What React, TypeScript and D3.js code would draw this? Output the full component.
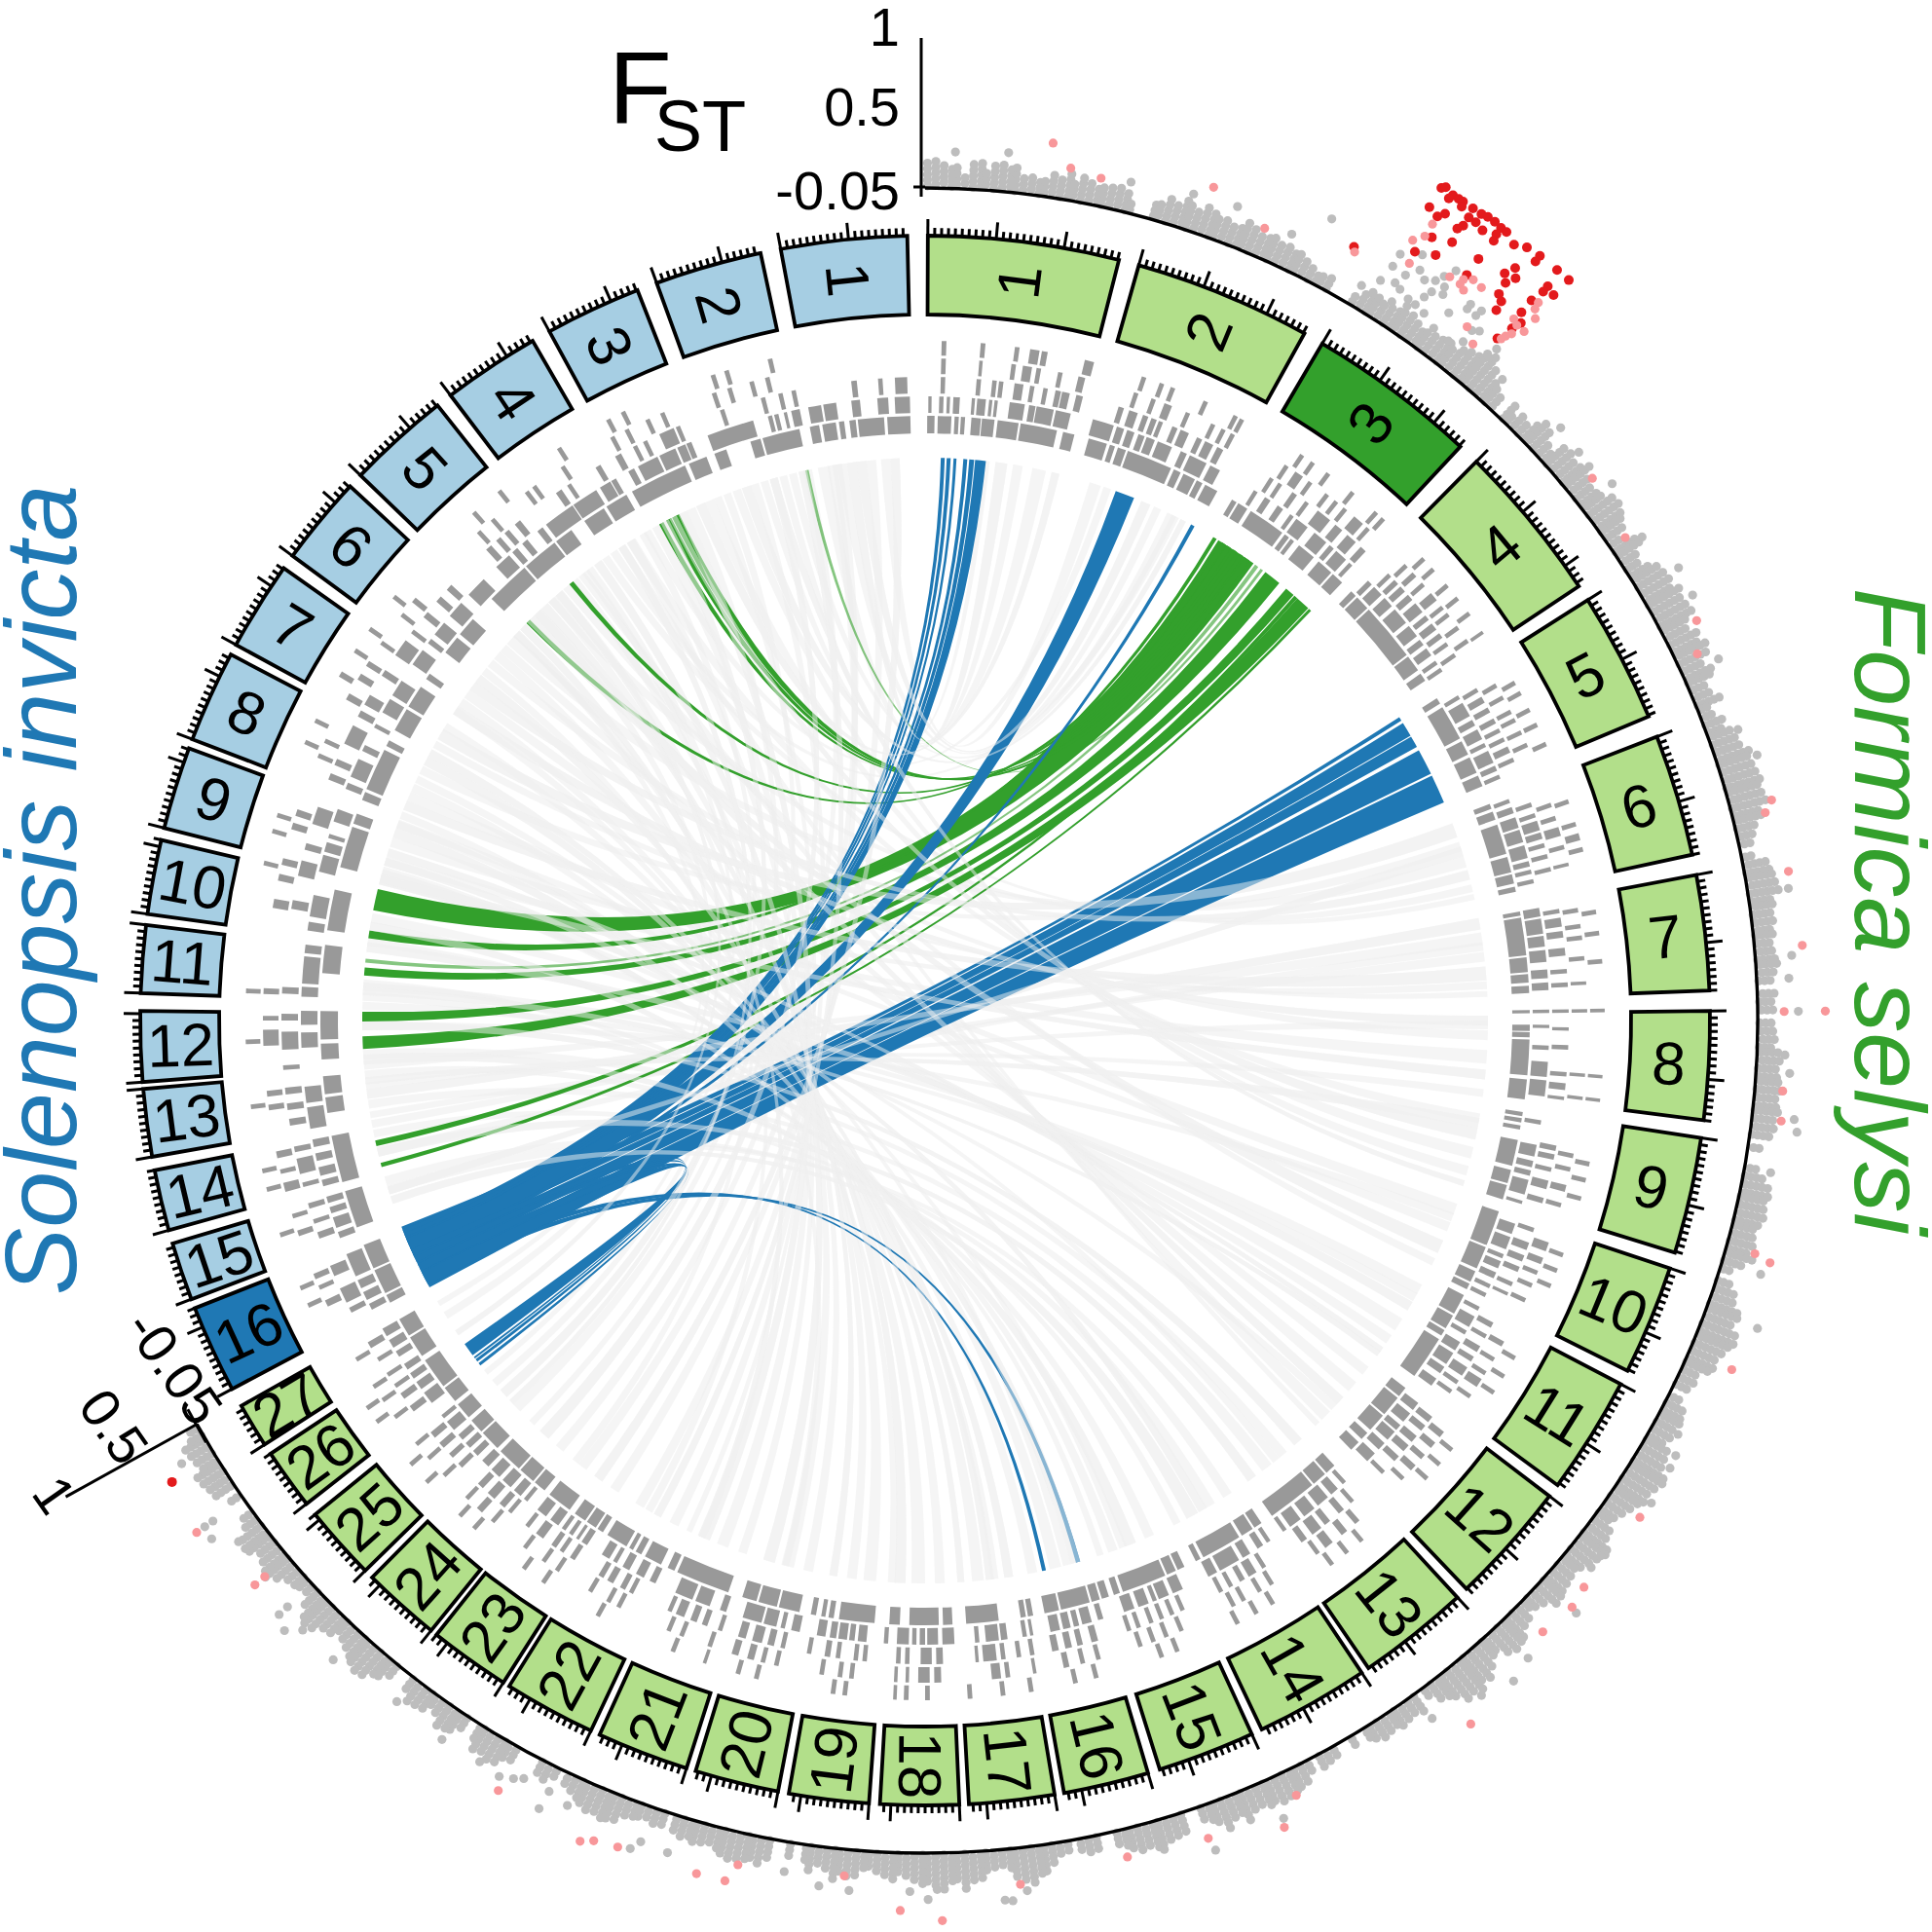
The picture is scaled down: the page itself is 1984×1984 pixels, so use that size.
import * as d3 from 'd3'

const CX = 950
const CY = 1048
const SIZE = 1984

const greenNames = d3.range(1, 28).map(String)
const greenStart = [0.2, 15.8, 30.4, 44.6, 57.6, 68.8, 79.3, 89.3, 98.6, 108.4, 117.6, 127.3, 137.3, 146.2, 155.4, 163.5, 170.5, 177.5, 184.1, 190.8, 197.7, 205.2, 212.5, 219, 225.5, 232, 237.3]
const greenEnd = [14.3, 28.9, 43, 56.4, 67.2, 77.8, 87.8, 97.3, 107.2, 116.5, 126.3, 136.4, 145.6, 154.6, 162.6, 169.8, 176.8, 183.3, 190, 197, 204.5, 212, 218.5, 224.8, 231, 236.5, 240.6]
const blueNames = d3.range(1, 17).map(String)
const blueStart = [349.4, 340, 331.4, 322.8, 314, 306.3, 298.6, 291, 284.2, 277.8, 272, 265.5, 260, 254.5, 249.2, 242]
const blueEnd = [358.7, 347.9, 338.5, 330, 321.6, 312.9, 305.2, 297.8, 290.3, 283.3, 277, 270.7, 265, 259, 253.5, 248.5]

const fstAxisTicks = [-0.05, 0.5, 1]

// top of the dense grey band, one value per half degree
const fstPeaks0 = [.14,.17,.12,.1,.13,.05,.14,.17,.08,.15,.16,.14,.12,.08,.1,.07,.09,.13,.1,.16,.08,.14,.11,.09,.11,.13,.12,.1,.04,.02,
  .03,.06,.1,.14,.12,.15,.13,.11,.16,.14,.12,.14,.1,.13,.15,.12,.1,.11,.13,.1,.12,.08,.1,.08,.06,.05,.04,.06,.03,.02]
const fstPeaks30 = [.03,.05,.08,.1,.12,.08,.1,.12,.14,.12,.1,.09,.1,.12,.14,.12,.1,.14,.16,.2,.24,.26,.2,.13,.1,.06,.02,.08,.04,.1,
  .06,.12,.16,.14,.08,.05,.14,.16,.12,.15,.18,.14,.1,.12,.13,.17,.2,.18,.15,.1,.05,.12,.16,.08,.04,.1,.18,.16,.2,.18]
const fstPeaks60 = [.22,.18,.2,.22,.17,.13,.18,.14,.2,.16,.1,.16,.12,.08,.1,.12,.05,.04,.1,.08,.12,.14,.17,.2,.17,.2,.22,.2,.2,.22,
  .2,.16,.17,.1,.08,.06,.03,.05,.12,.15,.14,.17,.16,.13,.12,.08,.1,.1,.11,.07,.1,.08,.1,.08,.05,.03,.08,.05,.06,.03]
const fstPeaks90 = [.06,.06,.08,.04,.1,.12,.09,.13,.14,.13,.1,.12,.14,.1,.12,.08,.03,.04,.02,.03,.05,.1,.14,.16,.14,.15,.17,.12,.1,.14,
  .12,.13,.17,.08,.05,.03,.06,.12,.14,.16,.18,.16,.2,.22,.2,.16,.14,.18,.14,.08,.1,.05,.02,.04,.08,.12,.14,.1,.12,.08]
const fstPeaks120 = [.12,.14,.16,.2,.22,.2,.18,.2,.16,.14,.1,.08,.06,.1,.14,.16,.18,.15,.14,.12,.1,.08,.1,.12,.14,.15,.1,.06,.04,.08,
  .1,.14,.16,.18,.14,.1,.1,.16,.2,.19,.22,.2,.22,.17,.13,.1,.04,.02,.1,.06,.08,.1,.06,.08,.1,.06,.04,.02,.04,.03]
const fstPeaks150 = [.03,.04,.06,.05,.03,.04,.08,.1,.12,.15,.16,.14,.13,.1,.14,.16,.12,.14,.17,.12,.1,.06,.03,.02,.08,.1,.12,.14,.16,.12,
  .14,.1,.07,.05,.02,.03,.06,.08,.04,.02,.04,.06,.1,.15,.18,.2,.2,.18,.1,.06,.1,.08,.14,.18,.2,.17,.16,.2,.18,.16]
const fstPeaks180 = [.18,.16,.12,.1,.14,.13,.1,.06,.08,.14,.16,.14,.16,.12,.1,.12,.06,.03,.04,.02,.03,.1,.14,.13,.12,.14,.15,.12,.1,.08,
  .1,.12,.1,.08,.06,.03,.04,.06,.04,.06,.08,.1,.12,.14,.16,.15,.14,.12,.1,.08,.04,.02,.05,.08,.06,.03,.02,.03,.08,.1]
const fstPeaks210 = [.14,.16,.14,.12,.06,.03,.05,.1,.14,.13,.08,.04,.1,.13,.12,.07,.03,.02,.04,.1,.14,.17,.2,.17,.14,.1,.08,.06,.1,.14,
  .18,.2,.16,.1,.05,.06,.04,.08,.14,.18,.15,.12,.1,.14,.16,.13,.09,.05,.03,.02,.04,.02,.1,.14,.12,.15,.1,.08,.1,.12,.06,.04]
const fstPeaks = [...fstPeaks0, ...fstPeaks30, ...fstPeaks60, ...fstPeaks90, ...fstPeaks120, ...fstPeaks150, ...fstPeaks180, ...fstPeaks210]

const fstLoose = [[26.9,.41],[31.8,.43],[33,.51],[31.8,.33],[33.4,.41],[32.8,.325],[32.5,.24],[31.6,.2],[34,.37],[34.6,.41],[34.9,.47],[35.3,.55],[35.3,.41],[35.5,.36],[34.8,.33],[34.6,.27],[33,.22],[33.8,.195],[34.4,.19],[34,.15],[36.5,.28],[37.3,.42],[37.3,.38],[38.1,.43],[38,.38],[35.2,.175],[36.3,.13],[38.4,.28],[38.8,.31],[37.6,.12],[38.4,.18],[38.8,.135],[40.4,.21],[40.4,.29],[42,.155],[30.7,.1],[31.6,.1],[32.6,.07],[33,.115],
  [2,.2],[5.5,.22],[13.8,.16],[18,.2],[21,.22],[25,.19],[47,.2],[49,.18],[52,.22],[56,.17],[59,.27],[61,.26],[65.5,.22],
  [70.3,.16],[72.3,.23],[81.3,.23],[85.7,.2],[87.2,.17],[89.4,.23],[92.3,.14],[93.5,.18],[97.3,.27],[96.5,.24],[100.2,.13],[106.9,.23],[110.3,.33],[120.1,.19],[121,.2],[118.8,.13],[123.6,.22],[128.4,.15],[129.4,.15],[132.3,.28],[136.6,.26],[138.3,.31],[140.5,.24],[144,.155],
  [155.8,.24],[160.7,.27],[163.9,.155],[173.3,.25],[174.8,.3],[174.3,.31],[179.8,.27],[179.2,.2],[181,.215],[185,.23],[187,.22],[189.4,.155],[197.2,.215],[199.1,.2],[199.6,.27],[206.1,.26],[204.5,.155],[206,.12],[207.9,.12],[208.5,.155],[209.4,.19],[211,.17],[213.9,.18],[217.8,.15],[225.6,.215],[222.8,.215],[239.2,.175],[234,.29],[234.9,.28],[234.9,.21],[232.8,.15],[227.4,.26],[226.4,.31],[227.4,.18]]

const fstPink = [[8.3,.325],[9.7,.17],[11.8,.14],[19.1,.29],[23.2,.15],[29.2,.28],[32.5,.73],[32.5,.63],[32,.56],[32.6,.41],[35.2,.49],[36,.53],[36,.49],[36.5,.57],[36.4,.47],[37.2,.56],[40.5,.73],[40.6,.68],[41,.63],[40,.53],[40.4,.51],[41,.51],[40.5,.44],[40.3,.4],[40.2,.365],[38,.28],[39,.21],
  [50.9,.135],[55.4,.07],[62.6,.2],[64.6,.1],[75.4,.24],[76.1,.175],[80.2,.25],[85.1,.28],[89.4,.13],[89.4,.42],[94.7,.14],[96.7,.15],[105.7,.15],[106,.27],[113.4,.27],[124.8,.21],[130.7,.2],[132.2,.23],[134.7,.2],[142.2,.35],[154.4,.13],[156,.3],[160.9,.175],[166.4,.14],[173.7,.2],[178.9,.42],[181.6,.35],[185.4,.13],[193.1,.3],[195,.3],[192.5,.17],[200.4,.29],[202,.31],[202.8,.35],[209,.28],[234.9,.35],[229.9,.25],[229.9,.16]]

const fstRed = [[31.8,.98],[32,1],[32.6,.98],[32.5,.945],[33,.98],[33.3,.98],[33.4,.945],[34,.98],[31.8,.82],[32.8,.84],[32.5,.795],[34.1,.91],[34.6,.98],[35,.99],[35.5,.99],[34.6,.91],[34.1,.84],[33.9,.8],[35.2,.89],[36,.98],[36,.925],[36.4,.98],[36.1,.877],[32.9,.65],[34.1,.7],[37.2,.94],[37.9,.98],[38.8,.99],[38.8,.94],[32.5,.5],[33.7,.56],[36,.71],[40.1,.99],[41,.99],[38.1,.815],[38.5,.76],[37.8,.74],[38.2,.69],[36,.57],[40.3,.86],[40.3,.81],[40.9,.84],[38.3,.6],[38.7,.57],[38.8,.5],[40.1,.71],[40.1,.6],[40.5,.54],[40.3,.47],[40,.35],[29,.31],[238.5,.3]]

const tileRow0 = [[0.2,0.9],[1.2,2.5],[2.8,3.2],[3.4,3.8],[4.4,5.3],[5.4,6.6],[6.9,8.9],[9.1,12.6],[13.2,14.3],
  [15.7,17.5],[17.8,18.3],[18.6,19.4],[19.6,24],[24.3,25],[25.3,26.5],[26.7,27.3],[27.6,28.9],
  [30.5,31],[31.2,32.2],[32.6,36.2],[36.5,37],[37.2,37.6],[38.2,40],[40.6,42.2],[42.4,43.6],
  [44.8,45.4],[45.6,47],[47.2,52.8],[53,54.6],[55,55.8],
  [57.8,58.4],[58.8,62.2],[62.5,63.9],[64.2,65.8],[66.1,67.2],
  [69,69.5],[69.8,70.6],[71.1,74],[74.3,75.8],[76,76.9],[77.2,77.7],
  [79.6,80],[80.2,83.8],[84,85.4],[85.6,86.4],[86.7,87.4],
  [89,89.3],[90.4,91],[91.1,91.6],[91.8,95.2],[95.6,97.5],
  [98.7,99.1],[99.3,99.7],[100,100.4],[101.4,103.9],[104.3,105.6],[105.8,107.2],
  [108.4,111.8],[112,114.2],[114.5,115.6],[115.8,116.4],
  [117,119],[119.2,120.6],[120.8,121.4],[121.8,126],
  [127.4,128.4],[128.6,130.6],[130.8,132.6],[133,133.8],[134.2,135.2],
  [137.4,138.4],[138.6,140],[140.2,145],[146.2,147],[147.2,148.4],[148.7,152.6],[152.9,153.4],
  [154.6,155.3],[155.5,156.4],[156.6,160.9],[161.2,161.8],[162.3,163],[163.2,164],[164.2,167],[167.2,168.6],
  [169.7,170.2],[170.4,170.9],[173,176.1],[177.4,178.3],[178.7,181.5],[182.4,183.4],[184.8,188.2],[188.7,189.2],[189.5,189.9],[190.4,190.9],
  [192,194],[194.2,196],[196.2,197.6],[199,204.2],[204.5,205.2],[205.9,207.6],[208,208.6],[208.9,209.3],[209.6,211.7],
  [212.2,212.8],[213,214],[214.2,215.4],[216,218.4],[219,220.2],[220.4,222],[222.2,224.6],[225,227],[227.2,228.6],[229,230.6],[231,232.6],[232.8,235.8],[236.3,238.4],[238.6,240.4],
  [242.2,243],[243.2,245.6],[245.8,248.2],[250,253.6],[254.5,259],[261.2,262.7],[263,264.7],[266.3,267.8],[268.2,270.9],[274.5,277.2],[278.6,282.5],
  [284.7,288.7],[289,290],[291.4,292.2],[292.5,296.6],[297,297.6],[298.7,301],[301.3,303.5],[304.4,305],[307.5,309.3],[309.7,311.6],[314.2,318.5],[318.7,322.2],
  [322.4,324.2],[325.7,327.9],[328.2,330.4],[331,336.6],[337,338.8],[339.6,340.8],[343.2,344.2],[344.4,348],[349,349.9],[350.2,351.5],[351.8,352.3],[352.8,353.4],[353.6,356.1],[356.4,358.6]]

const tileRow1 = [[0.3,0.6],[1.3,1.7],[2,2.3],[2.6,3.2],[4.3,4.6],[4.8,5.6],[5.9,6.2],[6.4,6.7],[7.8,9.2],[9.6,10.2],[10.3,11.9],[12.1,13.5],
  [15.6,17.6],[17.9,18.6],[18.9,19.6],[20,20.6],[20.8,21.6],[21.9,23.3],[24.2,24.8],[25.1,26.8],[27.2,28.2],
  [31.8,32.2],[33,33.6],[34.4,35],[35.8,36.2],[36.5,37.8],[38.6,40],[40.4,40.9],[41.2,42.4],[42.8,43.2],
  [45.2,45.7],[46,47],[47.4,48.4],[48.8,50.4],[50.8,52],[52.4,53],[53.4,54.2],[54.8,55.2],[55.6,56],
  [58.6,59],[59.4,60.8],[61.2,61.8],[62.2,63.2],[63.6,64],[64.4,65.6],[65.9,66.4],[66.8,67.2],
  [69.2,69.6],[70,70.6],[71,72],[72.2,73.4],[73.7,74.9],[75.2,75.7],[76,76.4],[76.9,77.3],
  [79.6,80.4],[80.6,82],[82.2,83.2],[83.5,84.6],[85.3,86.1],[86.5,87.2],
  [89,89.3],[90.4,90.7],[92.3,92.7],[93.8,95.2],[95.5,97],
  [99.2,99.6],[101.5,102.6],[103,103.6],[103.9,104.4],[104.8,106.2],[106.8,107.1],
  [109,110],[110.3,111.5],[112,112.4],[112.7,113.4],[113.8,114.4],[115,115.4],[115.9,116.3],
  [117.3,117.7],[118.3,119.4],[119.8,120.2],[121,121.9],[122.2,123.4],[123.7,124.4],[125,125.8],
  [127.8,128.6],[129,130],[130.4,131],[131.2,132.2],[132.6,133.4],[133.9,134.9],
  [137.6,138],[138.6,139.4],[139.8,141],[141.4,142.6],[143,144.2],[144.6,145],
  [146.4,146.8],[147.2,147.8],[148.6,149.4],[149.8,151.8],[152.1,153],
  [155.6,156.6],[157,158],[158.2,158.6],[159,160],[160.4,161.4],
  [163.4,163.9],[164.5,165.4],[165.7,166.2],[166.5,167.2],[167.5,168.4],
  [170,170.3],[170.6,171],[172.4,173],[173.2,174.4],[175,175.4],
  [177.3,178.4],[178.8,179.8],[180,180.5],[180.8,181.2],[181.5,182.6],[183.4,183.8],
  [185.4,186.2],[186.5,187],[187.2,188],[188.2,188.8],[189.2,190],
  [191.6,192.4],[193,193.4],[193.8,195],[195.2,197],[198.6,199.2],[200.2,201.6],[201.9,203.6],
  [205.6,206.2],[206.8,207.6],[208.3,209],[209.6,210],[210.4,211.2],
  [212.8,213.4],[213.7,214],[214.4,214.8],[215.2,215.6],[216,216.9],[217.4,218.4],
  [219.6,220],[220.4,221.2],[221.6,222.6],[223,224],[224.4,225.2],
  [225.8,226.4],[226.8,227.4],[227.8,228.4],[229,230],[230.4,230.8],
  [232.2,233.4],[233.8,234.6],[235,235.6],[236,236.6],[237.4,238],[238.4,239.2],[239.6,240.4],
  [242.4,243],[243.4,244.2],[244.6,245.4],[245.8,248],[249.6,250.2],[250.6,251.6],[252,252.6],[253,253.6],
  [254.6,255.2],[255.6,256.4],[257,257.7],[258.3,259],[260,262],[262.4,263.9],[267.5,268.9],[269.6,270.9],[272.2,273.1],[273.4,275.9],[276.2,277],
  [278.3,279.1],[279.6,281.6],[283.8,285.4],[285.7,286.6],[287,287.4],[288.6,289.8],[291.8,292.4],[293,294.8],[295.6,296.2],[298,298.4],[299.6,301],[301.4,303],[304.8,306.4],[307.2,307.7],[308.2,309.6],[310.4,312],[313,315],
  [316.6,318.2],[318.6,319.2],[319.8,320.4],[321.6,322.2],[322.6,325.6],[325.7,328.2],[328.6,329.7],[329.8,330.3],[331.6,332.2],[332.6,334.6],[334.8,336.4],[336.6,337.4],[337.5,338],[339.6,344],[345.4,345.8],[346,346.4],[346.9,347.2],[347.6,348.4],[349.2,350.4],[350.6,351.8],[353.2,354],[355.6,356.6],[357.2,358.6]]

const tileRow2 = [[1.4,1.8],[4.6,5],[6,6.4],[6.6,7],[8,8.8],[9.4,9.8],[10.6,11],[11.7,12.2],[12.3,13],[13.6,14.2],
  [17.5,18],[18.5,19.3],[19.8,20.3],[20.6,21.1],[21.3,21.7],[22.6,23.1],[23.4,24.2],[25,25.5],[25.8,26.6],[27,27.6],
  [32.4,32.8],[33.3,33.7],[34.8,35.3],[36.2,36.6],[37.6,39],[39.6,40.4],[41,42],[42.6,43.2],
  [46,46.4],[46.8,47.3],[47.6,48.2],[48.6,49.2],[49.6,50.6],[51,51.5],[51.9,52.6],[53,53.5],[54,54.4],[55.2,55.6],
  [58.9,59.3],[59.8,60.4],[60.9,61.4],[62,62.5],[63,63.4],[63.9,64.3],[64.8,65.4],[65.9,66.3],
  [70.2,70.6],[71.2,71.6],[71.9,72.8],[73,73.6],[74,74.4],[75,75.4],[76.2,76.6],
  [80,80.4],[80.8,81.6],[82,82.6],[83.5,84.2],[85.4,85.8],[86.6,87],
  [89,89.3],[90.6,90.9],[92.2,92.6],[94.6,95],[95.6,96.2],[96.8,97.1],
  [101.2,101.7],[102,102.5],[103.2,103.6],[104.4,105.2],[106,106.5],
  [108.8,109.2],[110.2,110.9],[111.4,112],[112.5,113],[114,114.4],[115,115.3],
  [118,118.5],[119.2,119.6],[120.4,121],[121.5,122],[122.6,123.5],[124,124.4],[125,125.4],
  [128,128.6],[129,129.6],[130.2,130.9],[131.3,132],[132.6,133.2],[134.4,134.8],
  [138.2,138.6],[139.4,140],[141,141.6],[142,143],[143.6,144.2],
  [148,148.4],[149,149.8],[150.2,150.7],[151.4,151.8],[152.4,152.8],
  [156.2,156.6],[157.2,157.6],[158.2,158.6],[159.2,159.6],[160.4,160.8],[161.3,161.7],
  [164.4,165],[165.8,166.3],[166.8,167.4],[168,168.6],
  [170.2,170.6],[171.4,171.8],[172.8,173.2],[173.6,174.8],[175.2,175.5],
  [178.4,179],[179.4,180.4],[181.4,181.8],[182.2,182.6],[185.2,185.6],[186,186.4],[187.6,188],[188.5,189],[190.2,190.6],
  [192.6,193],[193.6,194.2],[194.7,195.6],[196.2,196.9],[198.4,198.8],[199.8,200.3],[200.8,201.4],[202,202.8],[203.2,203.6],
  [207,207.4],[207.8,208.3],[209,209.6],[210,210.5],
  [213,213.5],[214.2,214.6],[215,215.5],[216.4,217.2],[218,218.4],[220,220.4],[220.8,221.4],[222,222.8],[223.4,224],
  [226,226.5],[227.2,227.7],[228.4,229],[229.6,230.2],[232.6,233.2],[234,234.6],[235.2,235.6],[236.4,236.8],[238,238.4],[239.4,240],
  [243,243.5],[244,245.4],[246.6,247.6],[250.2,250.8],[251.6,252],[253,253.5],[255,255.4],[256.2,257.6],[258.2,258.7],
  [260.6,261.2],[262,262.6],[263.4,264],[265.6,266],[267.4,269],[270,270.6],[272.4,273],[280,280.8],[283,284.4],[285.4,286],[287.8,289.4],[292,292.6],[293.4,294],[295.5,297.3],[298.2,298.8],[299.4,300.4],[302.4,303],[304.6,306.2],[307,307.4],[308.8,309.4],[310.6,311.2],[312,312.6],
  [317,317.6],[318.2,318.7],[319.2,319.7],[320.4,321],[325,325.6],[326.2,326.6],[329.2,329.7],[331.2,331.8],[333,333.4],[334,334.4],[335.6,337],[337.2,337.6],[341.4,341.8],[345.2,345.6],[346.8,347.2],[348,348.4],[353.4,353.9],[355.8,356.2],[357.3,358.4]]

const tileRow3 = [[1.4,1.8],[4.7,5],[7.5,7.9],[8.5,9.3],[9.7,10.1],[11.6,12],[13.4,14],
  [18.4,18.8],[20,20.4],[21.2,21.9],[23.2,23.6],[25.6,26],[26.6,27],[27.5,27.9],
  [32.9,33.3],[34,34.8],[35.4,35.8],[37.2,37.6],[38.2,38.6],[39.2,39.6],[40.4,41.4],[41.8,42.2],
  [46.4,46.8],[47.4,47.9],[48.6,49],[49.8,50.6],[51.2,51.6],[52,52.4],[53.4,53.8],[54.8,55.2],
  [59.4,59.8],[60.6,61],[62,62.4],[62.8,63.2],[64,64.4],[65.2,65.6],
  [70.8,71.2],[72,72.4],[73,73.8],[74.6,75],[76.2,76.5],
  [80.2,80.6],[81.6,82],[82.6,83],[84.4,84.8],[86.6,86.9],
  [89,89.3],[94.6,94.9],[96.6,96.9],
  [101.6,102],[102.8,103.2],[104.4,105],[106,106.4],
  [109.6,110.4],[111,111.6],[112.2,112.6],[113.4,113.8],[114.8,115.2],
  [119,119.5],[120.6,121],[122,122.4],[122.8,123.6],[124.4,124.8],
  [128.4,129],[129.6,130.2],[131,131.5],[132.2,132.8],[133.6,134],
  [139,139.5],[140.4,141],[142,142.8],[143.4,143.8],
  [148.2,148.6],[149.4,149.8],[151,151.4],[152,152.4],[157,157.4],[158.4,158.8],[159.6,160],[160.8,161.2],
  [164.6,165],[166,166.4],[167.4,167.9],[170.3,170.6],[172.6,173],[173.4,174.2],[178.6,179.2],[179.6,180.6],[181.4,181.7],[182.4,182.7],
  [186.2,186.6],[187.2,187.6],[188.8,189.2],[192.8,193.2],[194,194.4],[195,195.6],[196.4,197],
  [198.8,199.2],[201.4,201.8],[202.6,203],[207.4,207.8],[208.4,208.8],[210.2,210.6],
  [213.6,214],[215,215.4],[217,217.4],[220.6,221],[222,222.6],[223.6,224],[226.4,226.8],[228.4,228.8],[230,230.4],
  [233,233.4],[234.8,235.2],[236.2,236.6],[239,239.4],
  [244.4,245],[246,246.4],[247,247.5],[251,251.5],[252.6,253],[255,255.8],[256.6,257],[258,258.6],[262.2,262.7],[263.4,263.9],[267.8,269.2],[270,270.4],[272.3,272.8],[279.8,280.6],[282.2,282.8],[283.6,284.2],[286.8,287.4],[288,288.6],[293.4,293.8],[294.8,295.2],[299,299.6],[301,301.6],[302.4,302.9],[304.6,305],[307.6,308],[309.2,309.7],
  [317.4,317.8],[319,319.4],[322.8,323.2],[323.6,324],[326.6,327],[331.6,332],[333,333.4],[335,335.4],[336.4,336.8],[341.2,341.6],[342.6,343],[344.6,345],[346,346.4]]

const tileRow4 = [[1.4,1.8],[4.7,5.1],[7.6,8],[8.9,9.7],[9.9,10.4],[13.6,14.4],
  [18.6,19],[20.2,20.6],[21.2,21.6],[24.2,24.6],[27,27.4],[27.6,28],
  [33.5,33.9],[34.6,35],[36.2,36.6],[38.8,39.2],[41.4,41.8],[42.2,42.6],
  [47,47.4],[48.2,48.6],[50,50.4],[51.4,51.8],[53,53.4],[55,55.3],
  [60,60.4],[61,61.4],[62.6,63],[64,64.4],[65.8,66.2],
  [71,71.4],[73,73.4],[74,74.6],[75.2,75.6],
  [80.6,81],[82.4,82.8],[84.8,85.2],[89,89.3],[94.6,94.9],[96.6,96.9],
  [102,102.4],[103.4,103.8],[105,105.4],[110,110.4],[111.4,111.8],[112.8,113.2],
  [119.6,120],[121.4,121.8],[123,123.4],[129,129.4],[130.6,131],[132.2,132.6],
  [139.8,140.2],[141.4,141.8],[143,143.4],[149,149.4],[150.6,151],[152.4,152.8],
  [158,158.4],[159.4,159.8],[165.2,165.6],[167,167.4],[170.8,171.2],[173.2,173.6],[176,176.4],
  [179.6,180],[181.4,181.8],[182.4,182.7],[186.6,187],[187.6,188],[194.2,194.6],[195.8,196.2],[198.8,199.1],[201.6,202],
  [208.6,209],[214,214.4],[216,216.4],[221.4,221.8],[223,223.4],[227,227.4],[229,229.4],[233.6,234],[235,235.4],
  [245,245.4],[246.6,247],[251.4,251.8],[255.4,255.8],[257,257.4],[262.5,262.9],[268,268.4],[272.3,272.7],[283.2,283.6],[286,286.4],[287.4,287.8],[294,294.4],[296,296.4],[300.4,300.9],[302.8,303.2],[305,305.4],[308.4,308.8],
  [318.2,318.6],[321,321.4],[327.2,327.6],[332,332.4],[333.4,333.8],[341.6,342],[342.8,343.2],[346.6,347]]

// [green side, blue side, green width, blue width]
const grayLinks = [[7.2,352,1.2,1],[9,349,1,1.2],[11,343,1.4,.8],[13,336,.8,1],[6,345,.6,.8],[17,355.5,1.2,1],[22.6,353,1,1],[24,351,.8,1],[25.5,346,1,.8],[27,341,.6,1],[18.5,330,.8,.8],[26,326,.8,.8],
  [69.5,300,1.5,1.2],[71.5,296,1,.9],[73,312,1.2,1.2],[74.5,306,1,1],[76,318,.8,1],[77,325,.6,.8],
  [79.5,262,1.2,1],[81,265,1.3,.9],[83,259,1,.8],[84.5,292,1.4,1],[86,288,.8,1],[87,299,.6,.8],
  [89.5,303,1,1],[91,309,1,.9],[93,286,1.4,1],[95,284.2,1,.9],[97,263,.8,.7],
  [99.5,328,1,1],[101,333,1.2,.8],[103,337,1.2,1],[105,340,1,.9],[106.5,344,.6,.8],[109,293,1.2,1],[111,290,1,.9],[113,315,1.4,1],[115,320,.8,1],
  [118,273,1.1,.9],[120,277,1,1],[122,280,1.4,1],[124,284,1,1],[125.5,287,.6,.8],[128,305,1,1],[130,311,1.2,.9],[132,316,1,1],[134,322,1.2,.8],[135.5,327,.6,.8],
  [138,269,1,.9],[140,266,1,1],[142,261,1.2,.9],[144,256,1,1],[147,252,1,1],[149,253,1.1,.9],[151,251,1.3,.8],[153,258,.8,.8],
  [156,264,1,.9],[158,265.5,1.2,1],[160,272,1,.9],[161.5,273.4,.7,.8],[164,279.2,1,.9],[166,284.6,1.2,1],[168.5,285,1,.9],
  [171,289,.9,1],[172.5,291,.8,.8],[174,294,1.2,.9],[176,297,.7,1],[178,301,1,.9],[180,304,1.4,.9],[182,307,1.1,.9],[185,310,1.3,1],[187,313,1,.9],[189,317,.8,.9],
  [191.5,319,1,.9],[193.5,321,1.2,.9],[195.5,324,1.2,.9],[198.5,328,.9,.9],[200.5,331,1.2,1],[202.5,334,1.2,1],[204.5,338,.6,.8],
  [206,342,1,.8],[208,347,.8,.9],[210,350,1,1],[213,354,1,1],[215,356.5,1,.9],[217,350.5,1,1],[220,347.5,1,.9],[222,344,1.2,.8],[224,339,.7,.8],
  [226,335,1,.9],[228,332,1,.9],[229.5,329.5,.8,.8],[231,322.5,.6,.8],[236,319,.6,.8],[238,316,.8,.9],[239.5,313,.6,.8],
  [72,252,1,.8],[82,256,.9,.9],[90,260,.9,.7],[100,263.5,1,.7],[110,269,.9,.9],[119,271.1,.9,.8],[126,272.6,.6,.8],[133,277.6,.8,.8],[141,284,.8,.8],[150,286,.9,.8],[159,290,.8,.8],[165,295,.8,.8],[173,298,.8,.8],[183,303,.8,.8],[194,308,.8,.8],[203,314,.8,.8],[209,318,.8,.8],[218,323,.8,.8],[227,327,.6,.8]]

// colored bundles, [source start, source end, target start, target end]
const greenLinks = [[31.4,35.7,281.3,283.5],[30.8,31.2,278.4,279.2],[37.2,39,274.6,275.4],[39.9,40.9,269.9,270.9],[41.4,42.9,267.1,268.4],[41,41.4,257.1,257.7],[43,43.3,254.9,255.35],[31.8,32.3,314.9,315.4],[32.4,32.9,320.8,321.3],[33.2,33.6,331.8,332.3],[34,34.4,332.6,333.2],[34.6,35.2,333.3,334.1]]
const greenPaleLinks = [[35.9,36.3,275.9,276.3],[36.6,36.9,347.7,348.05]]
const blueLinks = [[64.2,67.2,241.7,244],[61.3,64,244.1,245.6],[59.7,60.9,245.7,246.6],[58.1,59.6,246.7,247.6],[57.4,57.8,247.7,248.5],
  [1.6,2,247.5,248.2],[2.2,2.6,247.1,247.8],[2.9,3.2,246.8,247.4],[3.9,4.3,246.4,247.1],[4.5,5,246,246.7],[5.1,6.2,245.2,246.2],[19.8,21.8,245.2,247.2],[28.2,28.6,245,245.5],
  [164,164.45,242.4,243],[167.6,168,243,243.6],
  [232.2,232.5,243.6,244.4],[232.7,233,244.6,245.2],[233.1,233.3,245.4,246],[233.5,234.9,242,243.4]]

const C_BLUE = '#1f78b4'
const C_LBLUE = '#a6cee3'
const C_GREEN = '#33a02c'
const C_LGREEN = '#b2df8a'
const font = "'Liberation Sans', Arial, sans-serif"

const rad = d3.scaleLinear().domain([0, 360]).range([0, 2 * Math.PI])
const rFst = d3.scaleLinear().domain([-0.05, 1]).range([856, 1009])

const R_SECTOR_IN = 725
const R_SECTOR_OUT = 806
const R_LINK = 578
const tileRows = [[603, 621, tileRow0], [624, 641, tileRow1], [644, 661, tileRow2], [664, 680, tileRow3], [683, 698, tileRow4]] as const

const arcGen = d3.arc()
const ribbonGen = d3.ribbon().radius(R_LINK)

const ribbonPath = (s0: number, s1: number, t0: number, t1: number) =>
  ribbonGen({
    source: { startAngle: rad(s0), endAngle: rad(s1) },
    target: { startAngle: rad(t0), endAngle: rad(t1) },
  } as any) as unknown as string

const polar = (deg: number, r: number) => d3.pointRadial(rad(deg), r)

function Sector({ name, a0, a1, fill }: { name: string; a0: number; a1: number; fill: string }) {
  const d = arcGen({ innerRadius: R_SECTOR_IN, outerRadius: R_SECTOR_OUT, startAngle: rad(a0), endAngle: rad(a1) } as any) as string
  const mid = (a0 + a1) / 2
  const [tx, ty] = polar(mid, 765)
  const rot = mid <= 181 ? mid - 90 : mid - 270
  const ticks = d3.range(0, a1 - a0 + 0.01, 0.5)
  return (
    <g>
      {ticks.map((t, i) => {
        const [x0, y0] = polar(a0 + t, R_SECTOR_OUT)
        const [x1, y1] = polar(a0 + t, R_SECTOR_OUT + (i % 10 === 0 ? 17 : 8))
        return <line key={i} x1={x0} y1={y0} x2={x1} y2={y1} stroke="#000" strokeWidth={3} />
      })}
      <path d={d} fill={fill} stroke="#000" strokeWidth={3.8} />
      <text x={tx} y={ty} transform={`rotate(${rot} ${tx} ${ty})`} textAnchor="middle" dominantBaseline="central" fontSize={62} fontFamily={font} fill="#000">{name}</text>
    </g>
  )
}

function Dots({ data, fill, r = 4.6 }: { data: number[][]; fill: string; r?: number }) {
  return (
    <g fill={fill}>
      {data.map(([deg, v], i) => {
        const [x, y] = polar(deg, rFst(v))
        return <circle key={i} cx={x} cy={y} r={r} />
      })}
    </g>
  )
}

export default function App() {
  // stack each half degree up to its peak; nearly empty bins stay empty so the gaps in the band show
  const denseDots = fstPeaks.flatMap((peak, i) =>
    peak <= 0.03
      ? []
      : d3.range(-0.042 + (i % 3) * 0.012, peak, 0.04).map((v) => [i * 0.5 + 0.25 + ((i % 4) - 1.5) * 0.06, v]),
  )
  const [lx, ly] = polar(241, 1009)
  const [lx0, ly0] = polar(241, 856)
  const [lc0x, lc0y] = polar(239.6, 856)
  const [lc1x, lc1y] = polar(242.2, 856)

  return (
    <svg width={SIZE} height={SIZE} viewBox={`0 0 ${SIZE} ${SIZE}`} style={{ position: 'fixed', left: 0, top: 0, background: '#fff' }}>
      <g transform={`translate(${CX},${CY})`}>
        <Dots data={denseDots} fill="#bdbdbd" />
        <Dots data={fstLoose} fill="#bdbdbd" />
        <Dots data={fstRed} fill="#e31a1c" r={5} />
        <Dots data={fstPink} fill="#f8979a" />
        <path d={arcGen({ innerRadius: 855, outerRadius: 855, startAngle: rad(0), endAngle: rad(241) } as any) as string} fill="none" stroke="#000" strokeWidth={3.4} />

        {greenNames.map((n, i) => (
          <Sector key={n} name={n} a0={greenStart[i]} a1={greenEnd[i]} fill={i === 2 ? C_GREEN : C_LGREEN} />
        ))}
        {blueNames.map((n, i) => (
          <Sector key={n} name={n} a0={blueStart[i]} a1={blueEnd[i]} fill={i === 15 ? C_BLUE : C_LBLUE} />
        ))}

        {tileRows.map(([r0, r1, row], k) => (
          <g key={k} fill="#999999">
            {row.map(([a, b], i) => (
              <path key={i} d={arcGen({ innerRadius: r0, outerRadius: r1, startAngle: rad(a), endAngle: rad(b) } as any) as string} />
            ))}
          </g>
        ))}

        {grayLinks.map(([s, t, sw, tw], i) => (
          <path key={i} d={ribbonPath(s, s + sw, t, t + tw)} fill="#eeeeee" opacity={0.6} />
        ))}
        {greenPaleLinks.map((l, i) => <path key={i} d={ribbonPath(l[0], l[1], l[2], l[3])} fill={C_GREEN} opacity={0.6} />)}
        {greenLinks.map((l, i) => <path key={i} d={ribbonPath(l[0], l[1], l[2], l[3])} fill={C_GREEN} />)}
        {blueLinks.map((l, i) => <path key={i} d={ribbonPath(l[0], l[1], l[2], l[3])} fill={C_BLUE} />)}
        {/* a part of the grey links crosses over the colored bundles */}
        {grayLinks.filter((_, i) => i % 3 === 0).map(([s, t, sw, tw], i) => (
          <path key={i} d={ribbonPath(s, s + sw, t, t + tw)} fill="#f2f2f2" opacity={0.5} />
        ))}
      </g>

      {/* Fst axes */}
      <line x1={946} x2={946} y1={CY - rFst(1)} y2={202} stroke="#000" strokeWidth={3} />
      <line x1={938} x2={950} y1={192} y2={192} stroke="#000" strokeWidth={3} />
      <g fontFamily={font} fontSize={56} textAnchor="end" fill="#000">
        {fstAxisTicks.map((t) => {
          const yTick = t === 1 ? 47 : t === 0.5 ? 129 : 215
          return <text key={t} x={924} y={yTick}>{t}</text>
        })}
      </g>
      <text x={625} y={127} fontFamily={font} fontSize={106} fill="#000">
        F<tspan dx={-18} dy={28} fontSize={74}>ST</tspan>
      </text>

      <line x1={CX + lx} y1={CY + ly} x2={CX + lx0} y2={CY + ly0} stroke="#000" strokeWidth={3} />
      <line x1={CX + lc0x} y1={CY + lc0y} x2={CX + lc1x} y2={CY + lc1y} stroke="#000" strokeWidth={3} />
      <g fontFamily={font} fontSize={56} textAnchor="middle" dominantBaseline="central" fill="#000">
        <text transform="translate(179,1404) rotate(55)">-0.05</text>
        <text transform="translate(117,1465) rotate(55)">0.5</text>
        <text transform="translate(56,1535) rotate(55)">1</text>
      </g>

      <text transform="translate(78,914) rotate(-90)" textAnchor="middle" fontFamily={font} fontStyle="italic" fontSize={104} fill={C_BLUE}>Solenopsis invicta</text>
      <text transform="translate(1905,936) rotate(90)" textAnchor="middle" fontFamily={font} fontStyle="italic" fontSize={104} fill={C_GREEN}>Formica selysi</text>
    </svg>
  )
}
